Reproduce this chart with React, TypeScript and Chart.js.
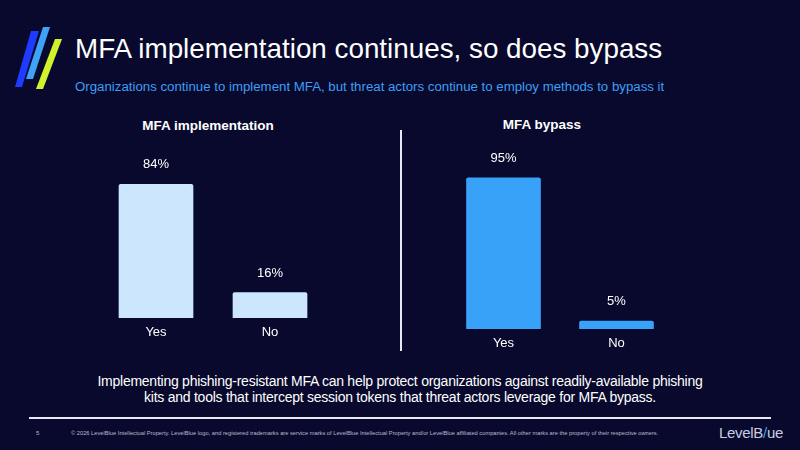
import React, { useEffect, useRef } from "react";
import { Chart, registerables, Plugin } from "chart.js";

Chart.register(...registerables);

// Survey results shown on the slide
const implCategories = ["Yes", "No"];
const implValues = [84, 16];
const bypassCategories = ["Yes", "No"];
const bypassValues = [95, 5];

const FONT = "'Liberation Sans', Arial, Helvetica, sans-serif";
const BG = "#08092c";

// Writes the percentage above each bar
const valueLabels: Plugin<"bar"> = {
  id: "valueLabels",
  afterDatasetsDraw(chart) {
    const ctx = chart.ctx;
    const meta = chart.getDatasetMeta(0);
    const data = chart.data.datasets[0].data as number[];
    ctx.save();
    ctx.font = `13px ${FONT}`;
    ctx.fillStyle = "#ffffff";
    ctx.textAlign = "center";
    ctx.textBaseline = "alphabetic";
    meta.data.forEach((bar: any, i: number) => {
      ctx.fillText(`${data[i]}%`, bar.x, bar.y - 16);
    });
    ctx.restore();
  },
};

type PanelProps = {
  labels: string[];
  values: number[];
  color: string;
  left: number;
  top: number;
  width: number;
  height: number;
  padTop: number;
  padBottom: number;
};

function BarPanel({ labels, values, color, left, top, width, height, padTop, padBottom }: PanelProps) {
  const ref = useRef<HTMLCanvasElement | null>(null);

  useEffect(() => {
    if (!ref.current) return;
    const chart = new Chart(ref.current, {
      type: "bar",
      data: {
        labels,
        datasets: [
          {
            data: values,
            backgroundColor: color,
            borderWidth: 0,
            borderRadius: 2,
            borderSkipped: "bottom",
            barThickness: 74,
          },
        ],
      },
      options: {
        responsive: false,
        animation: false,
        layout: { padding: { top: padTop, bottom: padBottom, left: 0, right: 0 } },
        plugins: {
          legend: { display: false },
          tooltip: { enabled: false },
          title: { display: false },
        },
        scales: {
          x: {
            grid: { display: false, drawTicks: false },
            border: { display: false },
            ticks: {
              color: "#ffffff",
              padding: 7,
              font: { family: FONT, size: 13, lineHeight: 1.2 },
            },
          },
          y: {
            display: false,
            min: 0,
            max: 100,
          },
        },
      },
      plugins: [valueLabels],
    });
    return () => chart.destroy();
  }, []);

  return (
    <div style={{ position: "absolute", left, top, width, height }}>
      <canvas ref={ref} width={width} height={height} style={{ display: "block" }} />
    </div>
  );
}

function Logo() {
  return (
    <svg width={70} height={100} style={{ position: "absolute", left: 0, top: 0 }}>
      <polygon points="31,31 39,31 22,87 15,87" fill="#1d3cff" />
      <polygon points="43,27 50,27 33,79 26,79" fill="#3ea2f6" />
      <polygon points="55,39 62,39 43,89 36,89" fill="#d2f22c" />
    </svg>
  );
}

export default function App() {
  return (
    <div
      style={{
        position: "absolute",
        left: 0,
        top: 0,
        width: 800,
        height: 450,
        background: BG,
        overflow: "hidden",
        fontFamily: FONT,
        color: "#ffffff",
      }}
    >
      <Logo />
      <div
        style={{
          position: "absolute",
          left: 75,
          top: 33,
          fontSize: 27.8,
          lineHeight: "32px",
          whiteSpace: "nowrap",
        }}
      >
        MFA implementation continues, so does bypass
      </div>
      <div
        style={{
          position: "absolute",
          left: 75,
          top: 79,
          fontSize: 13.25,
          lineHeight: "16px",
          color: "#3d9ff5",
          whiteSpace: "nowrap",
        }}
      >
        Organizations continue to implement MFA, but threat actors continue to employ methods to bypass it
      </div>

      <div
        style={{
          position: "absolute",
          left: 108,
          width: 200,
          top: 118,
          textAlign: "center",
          fontSize: 13.5,
          fontWeight: "bold",
          lineHeight: "16px",
        }}
      >
        MFA implementation
      </div>
      <div
        style={{
          position: "absolute",
          left: 442,
          width: 200,
          top: 117,
          textAlign: "center",
          fontSize: 13.5,
          fontWeight: "bold",
          lineHeight: "16px",
        }}
      >
        MFA bypass
      </div>

      <BarPanel
        labels={implCategories}
        values={implValues}
        color="#cce7fd"
        left={99}
        top={130}
        width={228}
        height={230}
        padTop={29}
        padBottom={12.4}
      />
      <BarPanel
        labels={bypassCategories}
        values={bypassValues}
        color="#38a2f8"
        left={447}
        top={130}
        width={226}
        height={230}
        padTop={40}
        padBottom={1.4}
      />

      <div
        style={{
          position: "absolute",
          left: 400,
          top: 130,
          width: 1.5,
          height: 221,
          background: "#e8e8f4",
        }}
      />

      <div
        style={{
          position: "absolute",
          left: 0,
          width: 800,
          top: 373,
          textAlign: "center",
          fontSize: 14,
          lineHeight: "16px",
          letterSpacing: -0.25,
        }}
      >
        Implementing phishing-resistant MFA can help protect organizations against readily-available phishing
        <br />
        kits and tools that intercept session tokens that threat actors leverage for MFA bypass.
      </div>

      <div
        style={{
          position: "absolute",
          left: 29,
          top: 417,
          width: 742,
          height: 1.5,
          background: "#e8e8f4",
        }}
      />
      <div style={{ position: "absolute", left: 36, top: 429, fontSize: 6, lineHeight: "8px", color: "#b8bccc" }}>5</div>
      <div
        style={{
          position: "absolute",
          left: 71,
          top: 429,
          fontSize: 5.72,
          lineHeight: "8px",
          color: "#b8bccc",
          whiteSpace: "nowrap",
        }}
      >
        © 2026 LevelBlue Intellectual Property. LevelBlue logo, and registered trademarks are service marks of LevelBlue Intellectual Property and/or LevelBlue affiliated companies. All other marks are the property of their respective owners.
      </div>
      <div
        style={{
          position: "absolute",
          left: 719,
          top: 424,
          fontSize: 15,
          lineHeight: "18px",
          color: "#c9cde0",
          whiteSpace: "nowrap",
          letterSpacing: -0.3,
        }}
      >
        LevelB<span style={{ color: "#3d9ff5" }}>/</span>ue
      </div>
    </div>
  );
}
